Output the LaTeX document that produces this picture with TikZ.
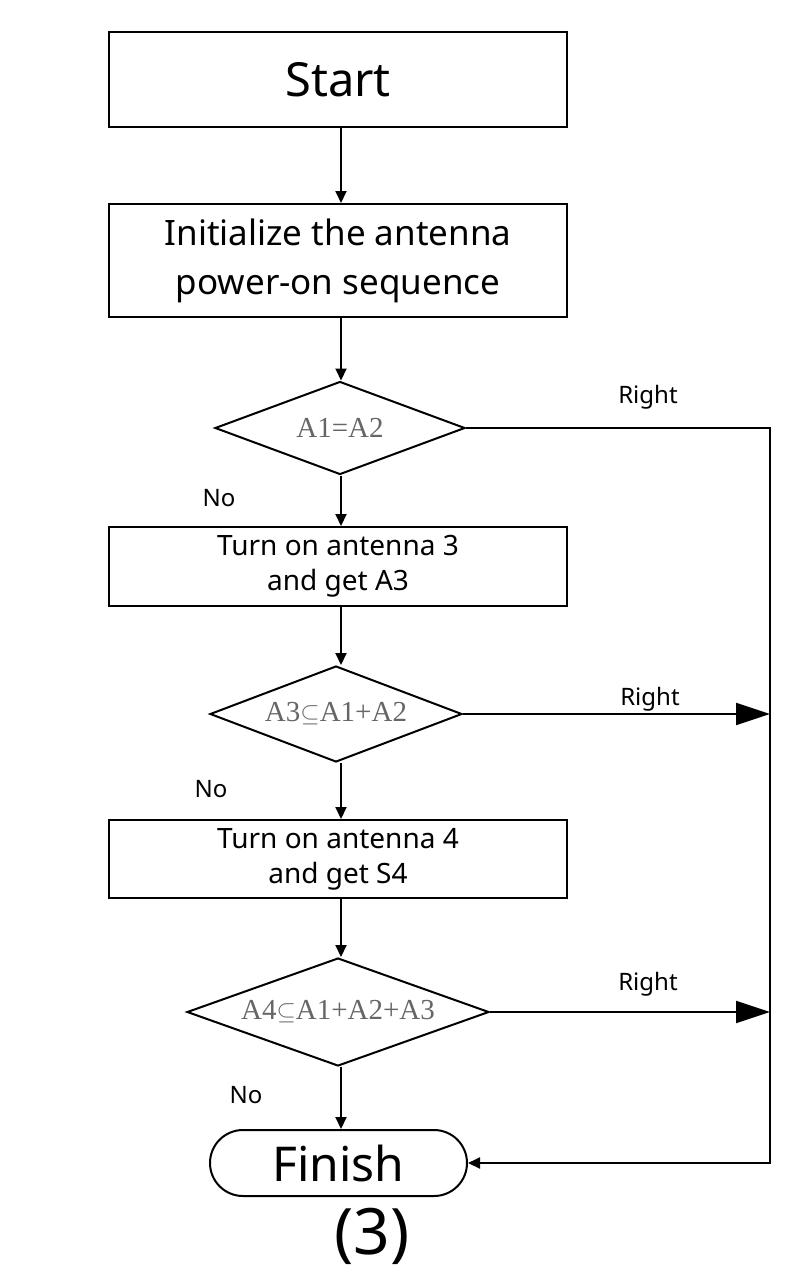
\documentclass[tikz,border=0pt]{standalone}
\usepackage{fontspec}
\setmainfont{Noto Sans}
\newfontfamily\condfont{Liberation Serif}
\usetikzlibrary{shapes.geometric,shapes.misc,arrows.meta}
\begin{document}
\begin{tikzpicture}[x=1pt,y=-1pt,
  box/.style={draw,line width=2pt,rectangle,inner sep=0pt,minimum width=458pt,align=center},
  dia/.style={draw,line width=2pt,diamond,inner sep=0pt,text=black!60,font=\condfont\fontsize{29}{30}\selectfont},
  lbl/.style={font=\fontsize{24}{26}\selectfont,inner sep=0pt},
  arr/.style={line width=2pt,-{Triangle[length=12pt,width=11pt]}},
  bigarr/.style={line width=2pt,-{Triangle[length=34pt,width=22pt]}}]
\useasboundingbox (0,0) rectangle (800,1285);
\node[box,minimum height=95pt,font=\fontsize{47}{50}\selectfont] (start) at (338,79.5) {Start};
\node[box,minimum height=113pt,font=\fontsize{35}{49}\selectfont] (init) at (338,260.5) {Initialize the antenna\\power-on sequence};
\node[dia,minimum width=250pt,minimum height=93pt,aspect=2.69] (d1) at (340,428) {A1=A2};
\node[box,minimum height=79pt,font=\fontsize{28}{35}\selectfont] (b2) at (338,566.5) {Turn on antenna 3\\and get A3};
\node[dia,minimum width=252pt,minimum height=96pt,aspect=2.62] (d2) at (336,714) {A3$\subseteq$A1+A2};
\node[box,minimum height=78pt,font=\fontsize{28}{35}\selectfont] (b3) at (338,859) {Turn on antenna 4\\and get S4};
\node[dia,minimum width=302pt,minimum height=108pt,aspect=2.8] (d3) at (338,1012) {A4$\subseteq$A1+A2+A3};
\node[draw,line width=2pt,rounded rectangle,inner sep=0pt,minimum width=257pt,minimum height=66pt,font=\fontsize{48}{50}\selectfont] (fin) at (338.5,1163) {Finish};
\node[font=\fontsize{64}{66}\selectfont,inner sep=0pt] (num) at (372,1236) {(3)};

\coordinate (c1) at (770,428);
\coordinate (c4) at (770,1163);
\coordinate (r2) at (770,714);
\coordinate (r3) at (770,1012);

\draw[arr] (start.south -| 341,0) -- (init.north -| 341,0);
\draw[arr] (init.south -| 341,0) -- (d1.north -| 341,0);
\draw[arr] (d1.south -| 341,0) -- (b2.north -| 341,0);
\draw[arr] (b2.south -| 341,0) -- (d2.north -| 341,0);
\draw[arr] (d2.south -| 341,0) -- (b3.north -| 341,0);
\draw[arr] (b3.south -| 341,0) -- (d3.north -| 341,0);
\draw[arr] (d3.south -| 341,0) -- (fin.north -| 341,0);
\draw[arr] (d1.east) -- (c1) -- (c4) -- (fin.east);
\draw[bigarr] (d2.east) -- (r2);
\draw[bigarr] (d3.east) -- (r3);

\node[lbl] (rt1) at (648,397) {Right};
\node[lbl] (rt2) at (650,699) {Right};
\node[lbl] (rt3) at (648,984) {Right};
\node[lbl] (no1) at (219,498) {No};
\node[lbl] (no2) at (211,789) {No};
\node[lbl] (no3) at (246,1095) {No};
\end{tikzpicture}
\end{document}
